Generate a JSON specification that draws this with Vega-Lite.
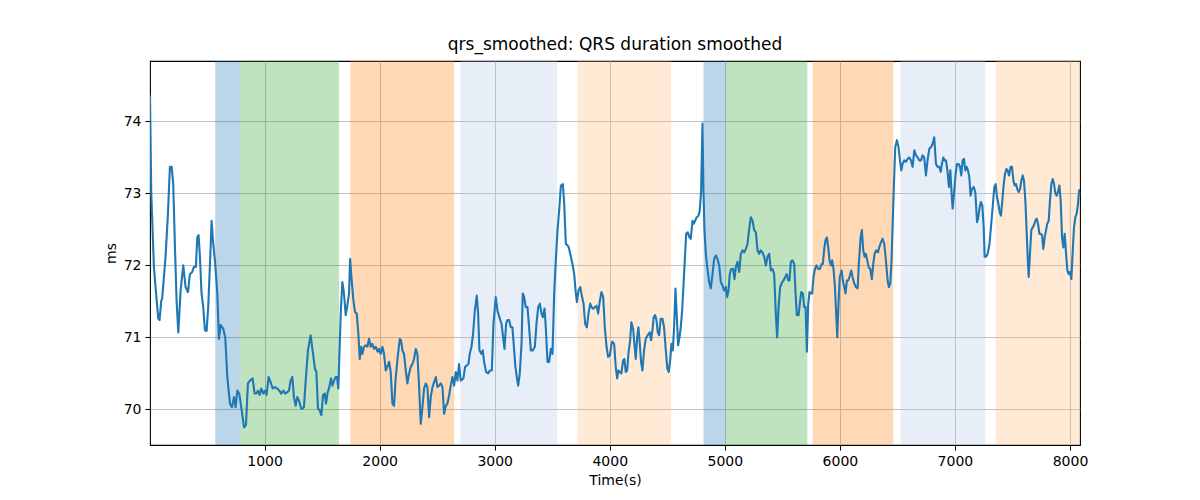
{
  "$schema": "https://vega.github.io/schema/vega-lite/v6.json",
  "width": 930,
  "height": 384,
  "autosize": {"type": "none"},
  "padding": {"left": 150, "top": 61, "right": 120, "bottom": 55},
  "background": "white",
  "title": {
    "text": "qrs_smoothed: QRS duration smoothed",
    "font": "DejaVu Sans",
    "fontSize": 17,
    "fontWeight": "normal",
    "color": "black",
    "offset": 7
  },
  "datasets": {
    "spans": [
      {"start": 571, "end": 791, "phase": "p1"},
      {"start": 791, "end": 1647, "phase": "p2"},
      {"start": 1745, "end": 2647, "phase": "p3"},
      {"start": 2702, "end": 3543, "phase": "p4"},
      {"start": 3719, "end": 4534, "phase": "p5"},
      {"start": 4815, "end": 5003, "phase": "p1"},
      {"start": 5003, "end": 5717, "phase": "p2"},
      {"start": 5763, "end": 6464, "phase": "p3"},
      {"start": 6529, "end": 7264, "phase": "p4"},
      {"start": 7354, "end": 8087, "phase": "p5"}
    ],
    "signal": [
      {"t":4,"v":74.35},{"t":15,"v":73.0},{"t":38,"v":71.98},{"t":52,"v":71.7},{"t":76,"v":71.26},{"t":87,"v":71.24},{"t":102,"v":71.51},{"t":110,"v":71.54},{"t":139,"v":72.12},{"t":160,"v":72.72},{"t":177,"v":73.37},{"t":192,"v":73.37},{"t":206,"v":73.13},{"t":220,"v":72.3},{"t":235,"v":71.51},{"t":250,"v":71.07},{"t":270,"v":71.65},{"t":293,"v":72.0},{"t":313,"v":71.7},{"t":334,"v":71.63},{"t":351,"v":71.88},{"t":371,"v":71.91},{"t":386,"v":71.98},{"t":403,"v":71.98},{"t":415,"v":72.39},{"t":426,"v":72.42},{"t":438,"v":72.12},{"t":452,"v":71.61},{"t":467,"v":71.42},{"t":481,"v":71.1},{"t":496,"v":71.09},{"t":510,"v":71.42},{"t":531,"v":72.25},{"t":539,"v":72.62},{"t":551,"v":72.35},{"t":571,"v":72.02},{"t":589,"v":71.61},{"t":603,"v":70.98},{"t":618,"v":71.17},{"t":641,"v":71.12},{"t":658,"v":71.0},{"t":676,"v":70.45},{"t":699,"v":70.08},{"t":716,"v":70.03},{"t":734,"v":70.17},{"t":748,"v":70.03},{"t":763,"v":70.26},{"t":780,"v":70.22},{"t":797,"v":70.03},{"t":821,"v":69.75},{"t":838,"v":69.78},{"t":855,"v":70.36},{"t":873,"v":70.4},{"t":896,"v":70.43},{"t":913,"v":70.22},{"t":928,"v":70.22},{"t":942,"v":70.26},{"t":957,"v":70.2},{"t":971,"v":70.29},{"t":989,"v":70.22},{"t":1003,"v":70.26},{"t":1017,"v":70.2},{"t":1035,"v":70.45},{"t":1052,"v":70.38},{"t":1070,"v":70.29},{"t":1087,"v":70.31},{"t":1110,"v":70.29},{"t":1128,"v":70.26},{"t":1145,"v":70.22},{"t":1163,"v":70.26},{"t":1180,"v":70.22},{"t":1197,"v":70.24},{"t":1212,"v":70.26},{"t":1226,"v":70.4},{"t":1241,"v":70.45},{"t":1255,"v":70.17},{"t":1270,"v":70.05},{"t":1284,"v":70.17},{"t":1299,"v":70.12},{"t":1319,"v":70.01},
      {"t":1328,"v":70.01},{"t":1342,"v":70.03},{"t":1357,"v":70.4},{"t":1377,"v":70.82},{"t":1400,"v":71.03},{"t":1421,"v":70.77},{"t":1438,"v":70.56},{"t":1450,"v":70.52},{"t":1464,"v":70.01},{"t":1479,"v":69.99},{"t":1493,"v":69.92},{"t":1508,"v":70.2},{"t":1522,"v":70.22},{"t":1534,"v":70.08},{"t":1548,"v":70.24},{"t":1560,"v":70.29},{"t":1577,"v":70.43},{"t":1589,"v":70.33},{"t":1603,"v":70.4},{"t":1618,"v":70.45},{"t":1629,"v":70.45},{"t":1641,"v":70.29},{"t":1653,"v":70.91},{"t":1664,"v":71.42},{"t":1676,"v":71.77},{"t":1690,"v":71.61},{"t":1705,"v":71.31},{"t":1719,"v":71.44},{"t":1734,"v":71.61},{"t":1743,"v":72.09},{"t":1757,"v":71.79},{"t":1772,"v":71.51},{"t":1786,"v":71.35},{"t":1801,"v":71.33},{"t":1815,"v":71.05},{"t":1827,"v":70.7},{"t":1838,"v":70.87},{"t":1850,"v":70.77},{"t":1864,"v":70.87},{"t":1879,"v":70.89},{"t":1893,"v":70.87},{"t":1908,"v":70.98},{"t":1922,"v":70.87},{"t":1937,"v":70.91},{"t":1951,"v":70.84},{"t":1966,"v":70.87},{"t":1983,"v":70.8},{"t":1995,"v":70.84},{"t":2009,"v":70.77},{"t":2024,"v":70.87},{"t":2038,"v":70.77},{"t":2053,"v":70.54},{"t":2067,"v":70.59},{"t":2082,"v":70.66},{"t":2096,"v":70.52},{"t":2111,"v":70.08},{"t":2125,"v":70.05},{"t":2140,"v":70.45},{"t":2157,"v":70.73},{"t":2175,"v":70.98},{"t":2186,"v":70.96},{"t":2198,"v":70.82},{"t":2212,"v":70.77},{"t":2227,"v":70.54},{"t":2241,"v":70.36},{"t":2256,"v":70.5},{"t":2270,"v":70.59},{"t":2285,"v":70.63},{"t":2299,"v":70.7},{"t":2314,"v":70.84},{"t":2328,"v":70.77},{"t":2343,"v":70.31},{"t":2357,"v":69.8},{"t":2372,"v":70.03},{"t":2386,"v":70.29},{"t":2401,"v":70.36},{"t":2415,"v":70.31},{"t":2430,"v":69.89},{"t":2444,"v":70.17},{"t":2459,"v":70.31},{"t":2473,"v":70.38},{"t":2488,"v":70.45},{"t":2502,"v":70.31},{"t":2517,"v":70.33},{"t":2531,"v":70.36},{"t":2546,"v":70.31},{"t":2560,"v":69.94},{"t":2575,"v":70.05},{"t":2589,"v":70.08},{"t":2604,"v":70.2},{"t":2618,"v":70.33},{"t":2633,"v":70.45},{"t":2647,"v":70.33},{"t":2662,"v":70.52},
      {"t":2676,"v":70.4},{"t":2690,"v":70.63},{"t":2705,"v":70.4},{"t":2728,"v":70.43},{"t":2743,"v":70.59},{"t":2757,"v":70.61},{"t":2772,"v":70.63},{"t":2783,"v":70.77},{"t":2798,"v":70.87},{"t":2812,"v":71.05},{"t":2827,"v":71.37},{"t":2844,"v":71.58},{"t":2856,"v":71.33},{"t":2867,"v":70.82},{"t":2885,"v":70.77},{"t":2896,"v":70.82},{"t":2908,"v":70.66},{"t":2925,"v":70.52},{"t":2943,"v":70.5},{"t":2957,"v":70.54},{"t":2975,"v":70.54},{"t":2989,"v":71.19},{"t":3009,"v":71.56},{"t":3024,"v":71.37},{"t":3041,"v":71.28},{"t":3059,"v":71.19},{"t":3073,"v":71.0},{"t":3085,"v":70.84},{"t":3099,"v":71.19},{"t":3111,"v":71.24},{"t":3125,"v":71.24},{"t":3140,"v":71.14},{"t":3154,"v":71.14},{"t":3169,"v":70.82},{"t":3180,"v":70.59},{"t":3192,"v":70.45},{"t":3204,"v":70.33},{"t":3218,"v":70.5},{"t":3233,"v":70.91},{"t":3244,"v":71.61},{"t":3256,"v":71.56},{"t":3270,"v":71.42},{"t":3285,"v":71.42},{"t":3299,"v":71.14},{"t":3314,"v":70.82},{"t":3331,"v":70.82},{"t":3349,"v":70.87},{"t":3363,"v":71.19},{"t":3378,"v":71.42},{"t":3392,"v":71.47},{"t":3407,"v":71.33},{"t":3418,"v":71.28},{"t":3433,"v":71.4},{"t":3444,"v":71.14},{"t":3459,"v":70.66},{"t":3473,"v":70.66},{"t":3488,"v":70.84},{"t":3502,"v":70.77},{"t":3517,"v":71.61},{"t":3531,"v":72.07},{"t":3546,"v":72.49},{"t":3560,"v":72.76},{"t":3575,"v":73.11},{"t":3592,"v":73.13},{"t":3604,"v":72.86},{"t":3618,"v":72.3},{"t":3633,"v":72.28},{"t":3644,"v":72.25},{"t":3662,"v":72.12},{"t":3676,"v":72.02},{"t":3691,"v":71.88},{"t":3705,"v":71.61},{"t":3714,"v":71.49},{"t":3728,"v":71.65},{"t":3743,"v":71.7},{"t":3757,"v":71.58},{"t":3772,"v":71.47},{"t":3786,"v":71.19},{"t":3801,"v":71.14},{"t":3815,"v":71.33},{"t":3830,"v":71.47},{"t":3841,"v":71.42},{"t":3856,"v":71.4},{"t":3870,"v":71.42},{"t":3885,"v":71.44},{"t":3899,"v":71.33},{"t":3914,"v":71.51},{"t":3928,"v":71.63},{"t":3943,"v":71.56},{"t":3957,"v":71.14},{"t":3972,"v":70.87},{"t":3986,"v":70.73},{"t":4001,"v":70.75},{"t":4015,"v":70.91},
      {"t":4023,"v":70.94},{"t":4038,"v":70.91},{"t":4052,"v":70.59},{"t":4064,"v":70.43},{"t":4075,"v":70.54},{"t":4087,"v":70.52},{"t":4101,"v":70.5},{"t":4116,"v":70.68},{"t":4127,"v":70.7},{"t":4139,"v":70.52},{"t":4151,"v":70.54},{"t":4162,"v":70.77},{"t":4177,"v":70.96},{"t":4188,"v":71.21},{"t":4203,"v":71.12},{"t":4214,"v":70.91},{"t":4226,"v":70.7},{"t":4238,"v":71.0},{"t":4249,"v":71.14},{"t":4261,"v":70.91},{"t":4272,"v":70.66},{"t":4284,"v":70.54},{"t":4298,"v":70.82},{"t":4313,"v":70.98},{"t":4330,"v":71.03},{"t":4348,"v":71.07},{"t":4359,"v":70.96},{"t":4371,"v":71.1},{"t":4382,"v":71.28},{"t":4394,"v":71.31},{"t":4406,"v":71.24},{"t":4417,"v":71.07},{"t":4429,"v":71.03},{"t":4443,"v":71.26},{"t":4458,"v":71.26},{"t":4472,"v":71.14},{"t":4487,"v":70.82},{"t":4501,"v":70.56},{"t":4513,"v":70.52},{"t":4525,"v":70.68},{"t":4536,"v":70.91},{"t":4548,"v":70.82},{"t":4559,"v":71.14},{"t":4571,"v":71.68},{"t":4583,"v":71.28},{"t":4594,"v":70.89},{"t":4606,"v":71.0},{"t":4617,"v":71.14},{"t":4629,"v":71.37},{"t":4640,"v":71.7},{"t":4652,"v":72.07},{"t":4664,"v":72.44},{"t":4678,"v":72.46},{"t":4693,"v":72.39},{"t":4704,"v":72.37},{"t":4719,"v":72.62},{"t":4730,"v":72.58},{"t":4742,"v":72.62},{"t":4756,"v":72.67},{"t":4771,"v":72.69},{"t":4782,"v":72.76},{"t":4794,"v":73.04},{"t":4806,"v":73.97},{"t":4814,"v":73.04},{"t":4823,"v":72.49},{"t":4835,"v":72.16},{"t":4849,"v":71.95},{"t":4864,"v":71.77},{"t":4878,"v":71.68},{"t":4893,"v":71.88},{"t":4907,"v":72.09},{"t":4922,"v":72.14},{"t":4936,"v":72.09},{"t":4951,"v":72.0},{"t":4965,"v":71.77},{"t":4980,"v":71.72},{"t":4994,"v":71.65},{"t":5009,"v":71.7},{"t":5020,"v":71.56},{"t":5032,"v":71.65},{"t":5043,"v":71.88},{"t":5055,"v":71.95},{"t":5072,"v":71.95},{"t":5084,"v":71.81},{"t":5096,"v":71.98},{"t":5110,"v":72.05},{"t":5125,"v":71.91},{"t":5139,"v":72.16},{"t":5154,"v":72.21},{"t":5168,"v":72.18},{"t":5183,"v":72.23},{"t":5197,"v":72.3},{"t":5212,"v":72.51},{"t":5226,"v":72.67},{"t":5241,"v":72.62},{"t":5255,"v":72.49},{"t":5270,"v":72.46},{"t":5284,"v":72.21},{"t":5299,"v":72.16},{"t":5313,"v":72.21},{"t":5328,"v":72.18},{"t":5342,"v":72.12},{"t":5357,"v":72.0},
      {"t":5371,"v":72.12},{"t":5386,"v":72.16},{"t":5400,"v":71.93},{"t":5414,"v":71.95},{"t":5429,"v":71.88},{"t":5443,"v":71.33},{"t":5455,"v":71.0},{"t":5467,"v":71.42},{"t":5481,"v":71.7},{"t":5499,"v":71.77},{"t":5510,"v":71.79},{"t":5525,"v":71.84},{"t":5539,"v":71.88},{"t":5551,"v":71.79},{"t":5562,"v":71.79},{"t":5574,"v":72.05},{"t":5588,"v":72.07},{"t":5603,"v":72.02},{"t":5615,"v":71.61},{"t":5626,"v":71.31},{"t":5641,"v":71.31},{"t":5652,"v":71.47},{"t":5664,"v":71.63},{"t":5678,"v":71.61},{"t":5690,"v":71.42},{"t":5702,"v":71.42},{"t":5713,"v":70.8},{"t":5725,"v":71.47},{"t":5736,"v":71.63},{"t":5748,"v":71.61},{"t":5759,"v":71.61},{"t":5771,"v":71.84},{"t":5783,"v":71.95},{"t":5797,"v":72.0},{"t":5812,"v":71.95},{"t":5826,"v":71.95},{"t":5841,"v":72.02},{"t":5852,"v":72.02},{"t":5864,"v":72.23},{"t":5875,"v":72.35},{"t":5887,"v":72.39},{"t":5899,"v":72.25},{"t":5910,"v":72.07},{"t":5922,"v":72.0},{"t":5933,"v":72.07},{"t":5945,"v":71.95},{"t":5957,"v":71.7},{"t":5968,"v":71.33},{"t":5977,"v":71.0},{"t":5988,"v":71.47},{"t":5999,"v":71.84},{"t":6015,"v":71.93},{"t":6026,"v":71.79},{"t":6038,"v":71.7},{"t":6049,"v":71.61},{"t":6061,"v":71.79},{"t":6073,"v":71.79},{"t":6087,"v":71.86},{"t":6099,"v":71.93},{"t":6110,"v":71.84},{"t":6125,"v":71.75},{"t":6139,"v":71.7},{"t":6154,"v":71.68},{"t":6165,"v":72.02},{"t":6180,"v":72.39},{"t":6191,"v":72.49},{"t":6203,"v":72.21},{"t":6215,"v":72.12},{"t":6226,"v":72.16},{"t":6238,"v":72.07},{"t":6249,"v":71.98},{"t":6264,"v":71.95},{"t":6278,"v":71.81},{"t":6290,"v":72.02},{"t":6302,"v":72.16},{"t":6316,"v":72.21},{"t":6331,"v":72.18},{"t":6342,"v":72.25},{"t":6357,"v":72.32},{"t":6371,"v":72.37},{"t":6386,"v":72.3},{"t":6400,"v":72.07},{"t":6415,"v":71.79},{"t":6426,"v":71.7},{"t":6438,"v":71.75},{"t":6449,"v":72.07},{"t":6461,"v":72.67},{"t":6470,"v":73.13},{"t":6481,"v":73.64},{"t":6496,"v":73.74},{"t":6510,"v":73.64},{"t":6522,"v":73.46},{"t":6534,"v":73.32},{"t":6545,"v":73.41},{"t":6560,"v":73.46},{"t":6574,"v":73.44},{"t":6589,"v":73.48},{"t":6603,"v":73.5},{"t":6618,"v":73.46},{"t":6632,"v":73.37},{"t":6647,"v":73.6},{"t":6661,"v":73.53},{"t":6676,"v":73.5},{"t":6690,"v":73.46},{"t":6705,"v":73.46},
      {"t":6719,"v":73.53},{"t":6733,"v":73.5},{"t":6748,"v":73.25},{"t":6762,"v":73.46},{"t":6777,"v":73.62},{"t":6791,"v":73.64},{"t":6806,"v":73.69},{"t":6820,"v":73.78},{"t":6835,"v":73.41},{"t":6849,"v":73.37},{"t":6864,"v":73.37},{"t":6876,"v":73.3},{"t":6887,"v":73.41},{"t":6899,"v":73.5},{"t":6910,"v":73.46},{"t":6922,"v":73.46},{"t":6936,"v":73.3},{"t":6948,"v":73.09},{"t":6960,"v":73.32},{"t":6971,"v":73.0},{"t":6980,"v":72.79},{"t":6992,"v":73.0},{"t":7006,"v":73.27},{"t":7018,"v":73.41},{"t":7032,"v":73.41},{"t":7044,"v":73.37},{"t":7055,"v":73.25},{"t":7067,"v":73.46},{"t":7079,"v":73.48},{"t":7090,"v":73.32},{"t":7102,"v":73.37},{"t":7113,"v":73.32},{"t":7125,"v":73.23},{"t":7136,"v":72.97},{"t":7148,"v":73.06},{"t":7163,"v":73.09},{"t":7177,"v":73.02},{"t":7192,"v":72.6},{"t":7203,"v":72.67},{"t":7215,"v":72.81},{"t":7226,"v":72.88},{"t":7238,"v":72.83},{"t":7250,"v":72.53},{"t":7258,"v":72.12},{"t":7270,"v":72.12},{"t":7284,"v":72.16},{"t":7299,"v":72.28},{"t":7313,"v":72.53},{"t":7328,"v":72.81},{"t":7342,"v":73.09},{"t":7354,"v":73.13},{"t":7365,"v":72.95},{"t":7377,"v":72.86},{"t":7389,"v":72.74},{"t":7400,"v":72.69},{"t":7412,"v":72.9},{"t":7424,"v":73.13},{"t":7435,"v":73.27},{"t":7447,"v":73.34},{"t":7458,"v":73.32},{"t":7470,"v":73.25},{"t":7484,"v":73.37},{"t":7496,"v":73.37},{"t":7508,"v":73.18},{"t":7519,"v":73.11},{"t":7531,"v":73.13},{"t":7542,"v":73.06},{"t":7554,"v":73.02},{"t":7566,"v":73.06},{"t":7577,"v":73.18},{"t":7589,"v":73.25},{"t":7600,"v":73.18},{"t":7612,"v":72.9},{"t":7624,"v":72.44},{"t":7632,"v":72.12},{"t":7641,"v":71.84},{"t":7652,"v":72.16},{"t":7664,"v":72.49},{"t":7676,"v":72.53},{"t":7687,"v":72.56},{"t":7699,"v":72.62},{"t":7710,"v":72.65},{"t":7722,"v":72.58},{"t":7734,"v":72.44},{"t":7745,"v":72.44},{"t":7757,"v":72.42},{"t":7768,"v":72.23},{"t":7780,"v":72.39},{"t":7792,"v":72.49},{"t":7803,"v":72.58},{"t":7815,"v":72.62},{"t":7826,"v":72.9},{"t":7838,"v":73.13},{"t":7850,"v":73.2},{"t":7861,"v":73.13},{"t":7873,"v":73.0},{"t":7884,"v":72.97},{"t":7896,"v":73.02},{"t":7908,"v":73.11},{"t":7919,"v":72.9},{"t":7931,"v":72.39},{"t":7942,"v":72.25},{"t":7954,"v":72.44},{"t":7966,"v":72.16},{"t":7977,"v":71.93},{"t":7989,"v":71.88},{"t":8000,"v":71.91},{"t":8012,"v":71.81},{"t":8024,"v":72.21},{"t":8035,"v":72.53},{"t":8047,"v":72.67},{"t":8058,"v":72.72},{"t":8070,"v":72.86},{"t":8079,"v":73.04},{"t":8087,"v":73.05}
    ]
  },
  "layer": [
    {
      "data": {"name": "spans"},
      "mark": {"type": "rect", "fillOpacity": 0.3, "strokeOpacity": 0.3, "strokeWidth": 1},
      "encoding": {
        "x": {"field": "start", "type": "quantitative", "title": "Time(s)"},
        "x2": {"field": "end"},
        "color": {
          "field": "phase",
          "type": "nominal",
          "scale": {
            "domain": ["p1", "p2", "p3", "p4", "p5"],
            "range": ["#1f77b4", "#2ca02c", "#ff7f0e", "#aec7e8", "#ffbb78"]
          },
          "legend": null
        }
      }
    },
    {
      "data": {"name": "signal"},
      "mark": {"type": "line", "color": "#1f77b4", "strokeWidth": 2.1, "strokeJoin": "round", "strokeCap": "round", "clip": true},
      "encoding": {
        "x": {
          "field": "t",
          "type": "quantitative",
          "title": "Time(s)",
          "scale": {"domain": [4, 8087], "nice": false, "zero": false},
          "axis": {"values": [1000, 2000, 3000, 4000, 5000, 6000, 7000, 8000], "format": "d"}
        },
        "y": {
          "field": "v",
          "type": "quantitative",
          "title": "ms",
          "scale": {"domain": [69.505, 74.84], "nice": false, "zero": false},
          "axis": {"values": [70, 71, 72, 73, 74]}
        }
      }
    }
  ],
  "config": {
    "view": {"stroke": "black", "strokeWidth": 1.1},
    "font": "DejaVu Sans",
    "axis": {
      "domain": false,
      "grid": true,
      "gridColor": "#b0b0b0",
      "gridWidth": 0.8,
      "tickColor": "black",
      "tickSize": 5,
      "tickWidth": 1,
      "labelFont": "DejaVu Sans",
      "labelFontSize": 14,
      "labelColor": "black",
      "labelPadding": 4,
      "titleFont": "DejaVu Sans",
      "titleFontSize": 14,
      "titleFontWeight": "normal",
      "titleColor": "black",
      "titlePadding": 5
    }
  }
}
